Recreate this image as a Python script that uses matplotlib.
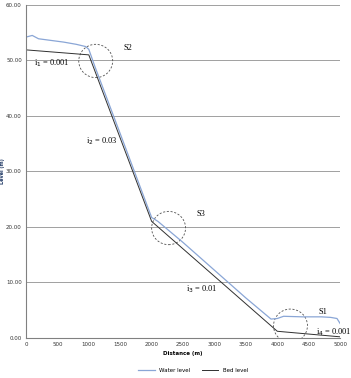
import matplotlib
matplotlib.use("Agg")
import matplotlib.pyplot as plt
from matplotlib.patches import Ellipse

# channel profile
bed_x = [0, 1000, 2000, 4000, 5000]
bed_y = [51.9, 51.0, 21.0, 1.2, 0.2]

water_x = [0, 100, 200, 400, 600, 800, 950, 1000, 1100, 1500, 2000,
           2100, 2500, 3000, 3500, 3900, 4000, 4100, 4400, 4700, 4850, 4950, 5000]
water_y = [54.2, 54.5, 53.9, 53.6, 53.3, 52.9, 52.5, 52.0, 48.8, 36.8, 21.7,
           21.0, 17.2, 12.2, 7.2, 3.4, 3.5, 3.9, 3.8, 3.8, 3.7, 3.5, 2.6]

# labels: (text, x, y)
slope_labels = [("i$_1$ = 0.001", 130, 49.0), ("i$_2$ = 0.03", 950, 35.0),
                ("i$_3$ = 0.01", 2550, 8.4), ("i$_4$ = 0.001", 4620, 0.6)]
section_labels = [("S2", 1560, 51.8), ("S3", 2720, 22.0), ("S1", 4660, 4.4)]
circle_centres = [(1110, 49.9), (2270, 19.8), (4210, 2.2)]

fig = plt.figure(figsize=(3.51, 3.78), dpi=100)
ax = fig.add_axes([0.074, 0.106, 0.895, 0.881])

ax.plot(water_x, water_y, color="#8aa6d6", lw=0.9, label="Water level")
ax.plot(bed_x, bed_y, color="#303030", lw=0.7, label="Bed level")

for cx, cy in circle_centres:
    ax.add_patch(Ellipse((cx, cy), 540, 6.0, fill=False, ls=(0, (2.5, 2)),
                         lw=0.6, color="#505050"))

for txt, x, y in slope_labels:
    ax.text(x, y, txt, fontsize=6, family="Liberation Serif")
for txt, x, y in section_labels:
    ax.text(x, y, txt, fontsize=6, family="Liberation Serif")

ax.set_xlim(0, 5000)
ax.set_ylim(0, 60)
ax.set_xticks(range(0, 5001, 500))
ax.set_yticks(range(0, 61, 10))
ax.set_yticklabels([f"{v:.2f}" for v in range(0, 61, 10)])
ax.tick_params(labelsize=4, length=0, pad=3, colors="#333333")
ax.grid(axis="y", color="#a0a0a0", lw=0.7)
ax.set_axisbelow(True)
for s in ["top", "right"]:
    ax.spines[s].set_visible(False)
for s in ["left", "bottom"]:
    ax.spines[s].set_color("#808080")
    ax.spines[s].set_linewidth(0.8)

ax.set_xlabel("Distance (m)", fontsize=4, fontweight="bold", labelpad=3)
ax.set_ylabel("Level (m)", fontsize=3.5, fontweight="bold", color="#1f3864")
ax.yaxis.set_label_coords(-0.068, 0.5)

fig.legend(loc="lower center", bbox_to_anchor=(0.55, 0.0), ncol=2, fontsize=4,
           frameon=False, handlelength=3, columnspacing=2)

fig.savefig("out.png", dpi=100)
